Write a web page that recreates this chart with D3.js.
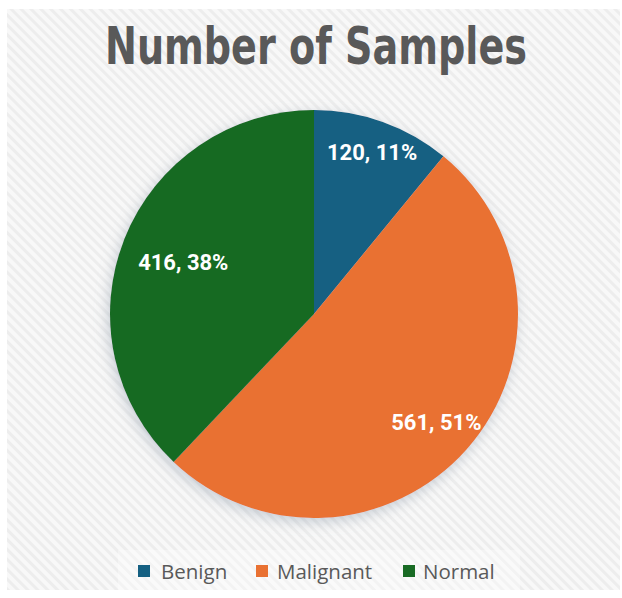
<!DOCTYPE html>
<html>
<head>
<meta charset="utf-8">
<script src="https://cdn.jsdelivr.net/npm/d3@7/dist/d3.min.js"></script>
<style>
  html, body { margin: 0; padding: 0; background: #ffffff; }
  svg { display: block; }
</style>
</head>
<body>
<svg id="chart" width="622" height="598"></svg>
<script>
// Sample counts per class
const categories = ["Benign", "Malignant", "Normal"];
const counts = [120, 561, 416];
const percentLabels = ["11%", "51%", "38%"];
const colors = ["#156082", "#E97132", "#196B24"];
const title = "Number of Samples";

const W = 622, H = 598;
const svg = d3.select("#chart");
const defs = svg.append("defs");

// Light diagonal hatch used as the chart background
const pat = defs.append("pattern")
  .attr("id", "hatch")
  .attr("patternUnits", "userSpaceOnUse")
  .attr("width", 7).attr("height", 7)
  .attr("patternTransform", "rotate(-45)");
pat.append("rect").attr("width", 7).attr("height", 7).attr("fill", "#f8f8f8");
pat.append("rect").attr("width", 3).attr("height", 7).attr("fill", "#ededed");

const shadow = defs.append("filter").attr("id", "pieShadow")
  .attr("x", "-20%").attr("y", "-20%").attr("width", "140%").attr("height", "140%");
shadow.append("feDropShadow")
  .attr("dx", -2).attr("dy", 4).attr("stdDeviation", 7)
  .attr("flood-color", "#8a97a8").attr("flood-opacity", 0.45);

svg.append("rect")
  .attr("x", 7).attr("y", 9).attr("width", 613).attr("height", 581)
  .attr("fill", "url(#hatch)");

// Title
svg.append("text")
  .attr("x", 316).attr("y", 64)
  .attr("text-anchor", "middle")
  .attr("font-family", "'Liberation Sans Narrow', 'DejaVu Sans Condensed', 'Roboto', sans-serif")
  .attr("font-weight", "bold")
  .attr("font-size", 52)
  .attr("fill", "#595959")
  .attr("textLength", 422)
  .attr("lengthAdjust", "spacingAndGlyphs")
  .text(title);

// Pie
const cx = 314, cy = 314, R = 204;
const pie = d3.pie().sort(null).value(d => d)(counts);
const arc = d3.arc().innerRadius(0).outerRadius(R);
const color = d3.scaleOrdinal().domain(categories).range(colors);

const g = svg.append("g").attr("transform", `translate(${cx},${cy})`);
g.append("g").attr("filter", "url(#pieShadow)")
  .selectAll("path")
  .data(pie)
  .join("path")
  .attr("d", arc)
  .attr("fill", (d, i) => color(categories[i]));

// Data labels placed inside each slice
const labelRadius = [0.845, 0.8, 0.69];
g.selectAll("text.lbl")
  .data(pie)
  .join("text")
  .attr("class", "lbl")
  .attr("transform", (d, i) => {
    const r = R * labelRadius[i];
    const a = (d.startAngle + d.endAngle) / 2;
    return `translate(${r * Math.sin(a)},${-r * Math.cos(a)})`;
  })
  .attr("text-anchor", "middle")
  .attr("dy", "0.36em")
  .attr("font-family", "'Roboto', 'Liberation Sans', sans-serif")
  .attr("font-weight", "bold")
  .attr("font-size", 22)
  .attr("fill", "#ffffff")
  .text((d, i) => `${counts[i]}, ${percentLabels[i]}`);

// Legend
const legendItems = [
  { x: 138, tx: 161 },
  { x: 256, tx: 277 },
  { x: 403, tx: 423 }
];
svg.append("rect")
  .attr("x", 118).attr("y", 550).attr("width", 402).attr("height", 40)
  .attr("fill", "#ffffff").attr("opacity", 0.35);
const lg = svg.append("g");
categories.forEach((c, i) => {
  lg.append("rect")
    .attr("x", legendItems[i].x).attr("y", 565)
    .attr("width", 12).attr("height", 12)
    .attr("fill", color(c));
  lg.append("text")
    .attr("x", legendItems[i].tx).attr("y", 579)
    .attr("font-family", "'Open Sans', 'Noto Sans', sans-serif")
    .attr("font-size", 20.5)
    .attr("fill", "#595959")
    .text(c);
});
</script>
</body>
</html>
